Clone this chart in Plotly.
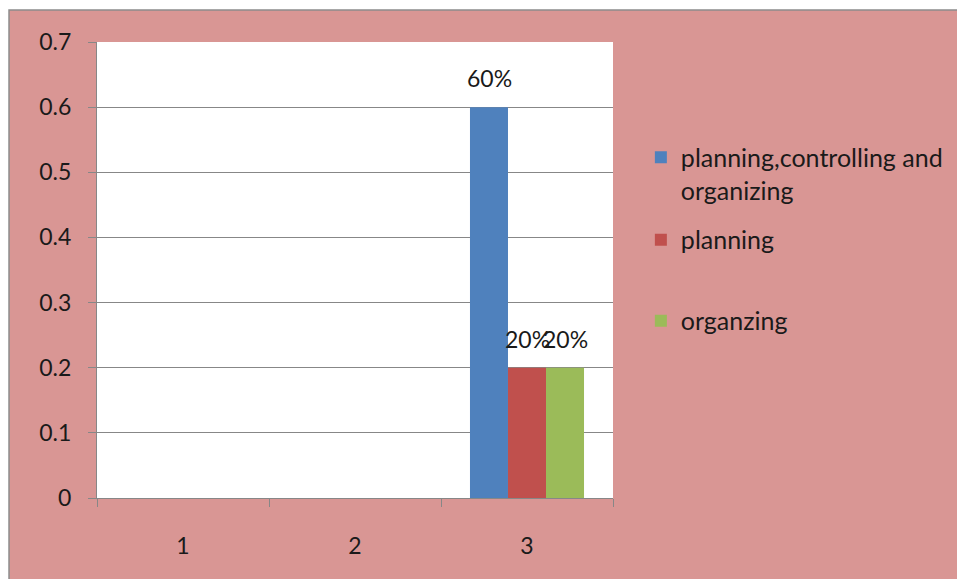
import plotly.graph_objects as go

# Categories and series values
categories = ["1", "2", "3"]
series_names = ["planning,controlling and<br>organizing", "planning", "organzing"]
pcao_values = [0, 0, 0.6]
planning_values = [0, 0, 0.2]
organzing_values = [0, 0, 0.2]
value_labels = ["60%", "20%", "20%"]

colors = ["#4F81BD", "#C0504D", "#9BBB59"]
bg_pink = "#D99694"
grid_gray = "#878787"
text_color = "#1a1a1a"
font_family = "Lato, 'Open Sans', sans-serif"

# One legend box per series so each entry sits at its own height
legend_ids = ["legend", "legend2", "legend3"]
legend_y = [0.7116, 0.5658, 0.3882]

fig = go.Figure()
all_values = [pcao_values, planning_values, organzing_values]
for i, (name, vals) in enumerate(zip(series_names, all_values)):
    fig.add_trace(go.Bar(
        x=categories, y=vals, name=name,
        marker=dict(color=colors[i], line=dict(width=0)),
        legend=legend_ids[i],
    ))

# Value labels above the bars of the last category (x given as category index)
offsets = [-38, 0, 38]
last_idx = len(categories) - 1
for i, vals in enumerate(all_values):
    fig.add_annotation(
        x=last_idx, y=vals[-1], text=value_labels[i],
        showarrow=False, yanchor="bottom", xshift=offsets[i], yshift=13,
        font=dict(size=23, color=text_color, family=font_family),
    )

# Outer chart frame and white plot area
fig.add_shape(type="rect", xref="paper", yref="paper",
              x0=-0.1705, x1=1.70, y0=-0.19, y1=1.070,
              fillcolor=bg_pink, line=dict(color="#8c8c8c", width=1.5), layer="below")
fig.add_shape(type="rect", xref="paper", yref="paper",
              x0=0, x1=1, y0=0, y1=1,
              fillcolor="white", line=dict(width=0), layer="below")

legend_common = dict(
    x=1.054, xanchor="left", yanchor="middle", valign="top",
    bgcolor="rgba(0,0,0,0)", font=dict(size=25, family=font_family, color=text_color),
)

fig.update_layout(
    width=957, height=579,
    margin=dict(l=97, r=344, t=42, b=81, autoexpand=False),
    paper_bgcolor="white", plot_bgcolor="white",
    barmode="group", bargap=0.337, bargroupgap=0,
    font=dict(family=font_family, size=23, color=text_color),
    showlegend=True,
    legend=dict(y=legend_y[0], **legend_common),
    legend2=dict(y=legend_y[1], **legend_common),
    legend3=dict(y=legend_y[2], **legend_common),
    xaxis=dict(
        type="category", range=[-0.5, 2.5], tickson="boundaries",
        ticks="outside", ticklen=8, automargin=False,
        tickcolor=grid_gray, showline=True, linecolor=grid_gray, linewidth=1,
        showgrid=False, ticklabelstandoff=27, tickfont=dict(size=23),
    ),
    yaxis=dict(
        range=[0, 0.7], dtick=0.1, ticks="outside", ticklen=8, automargin=False,
        tickcolor=grid_gray, showline=True, linecolor=grid_gray, linewidth=1,
        showgrid=True, gridcolor=grid_gray, gridwidth=1, zeroline=False,
        ticklabelstandoff=12, tickfont=dict(size=23),
    ),
)

fig.write_html("out.html")
